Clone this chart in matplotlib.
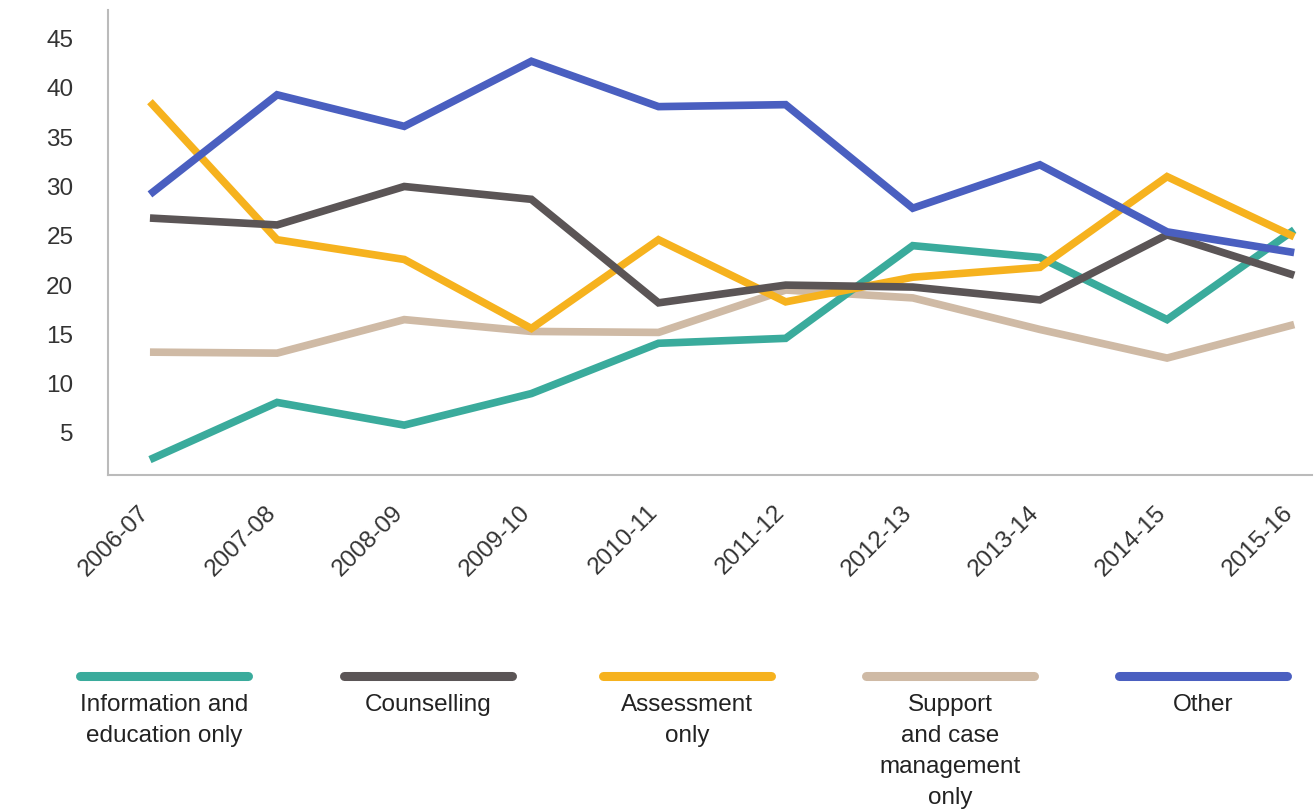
import matplotlib
matplotlib.use("Agg")
import matplotlib.pyplot as plt
import matplotlib.transforms as mtransforms
from matplotlib.lines import Line2D

plt.rcParams['font.family'] = ['Liberation Sans', 'DejaVu Sans']

years = ["2006-07", "2007-08", "2008-09", "2009-10", "2010-11",
         "2011-12", "2012-13", "2013-14", "2014-15", "2015-16"]
info_edu = [2.3, 8.1, 5.8, 9.0, 14.1, 14.6, 24.0, 22.8, 16.5, 25.6]
counselling = [26.8, 26.1, 30.0, 28.7, 18.2, 20.0, 19.8, 18.5, 25.1, 21.0]
assessment = [38.6, 24.6, 22.6, 15.6, 24.6, 18.3, 20.8, 21.8, 31.0, 24.9]
support = [13.2, 13.1, 16.5, 15.3, 15.2, 19.5, 18.7, 15.5, 12.6, 16.0]
other = [29.2, 39.3, 36.1, 42.7, 38.1, 38.3, 27.8, 32.2, 25.4, 23.3]

series_labels = ["Information and\neducation only", "Counselling", "Assessment\nonly",
                 "Support\nand case\nmanagement\nonly", "Other"]
series_colors = ["#3aab9c", "#5b5556", "#f6b21e", "#cfbaa5", "#4a5fc0"]
yticks = [5, 10, 15, 20, 25, 30, 35, 40, 45]

fig = plt.figure(figsize=(13.14, 8.09), dpi=100)
ax = fig.add_axes([108/1314, 1 - 475/809, (1312-108)/1314, (475-10)/809])

x = list(range(len(years)))
all_series = [info_edu, counselling, assessment, support, other]
order = [3, 0, 2, 1, 4]
for i in order:
    ax.plot(x, all_series[i], color=series_colors[i], lw=5.5, solid_joinstyle='miter',
            solid_capstyle='butt')

ax.set_xlim(-0.33, 9.14)
ax.set_ylim(0.74, 47.9)
ax.set_yticks(yticks)
ax.set_yticklabels([str(v) for v in yticks], fontsize=17.5, color="#333333")
ax.set_xticks(x)
ax.set_xticklabels(years, rotation=45, ha='right', rotation_mode='anchor',
                   fontsize=17.5, color="#333333")
ax.tick_params(axis='y', length=0, pad=25)
ax.tick_params(axis='x', length=0, pad=19)
offset = mtransforms.ScaledTranslation(-12/100, 0, fig.dpi_scale_trans)
for lab in ax.get_xticklabels():
    lab.set_transform(lab.get_transform() + offset)
for s in ['top', 'right']:
    ax.spines[s].set_visible(False)
for s in ['left', 'bottom']:
    ax.spines[s].set_color("#bbbbbb")
    ax.spines[s].set_linewidth(1.5)

# custom legend below
centers = [164, 428, 687, 950, 1203]
for i, c in enumerate(centers):
    x0, x1 = (c - 84) / 1314, (c + 84) / 1314
    yy = 1 - 676 / 809
    fig.add_artist(Line2D([x0, x1], [yy, yy], transform=fig.transFigure,
                          color=series_colors[i], lw=6.5, solid_capstyle='round'))
    fig.text(c / 1314, 1 - 694 / 809, series_labels[i], ha='center', va='top',
             fontsize=17.5, color="#222222", linespacing=1.52)

fig.savefig("out.png", dpi=100, facecolor="white")
